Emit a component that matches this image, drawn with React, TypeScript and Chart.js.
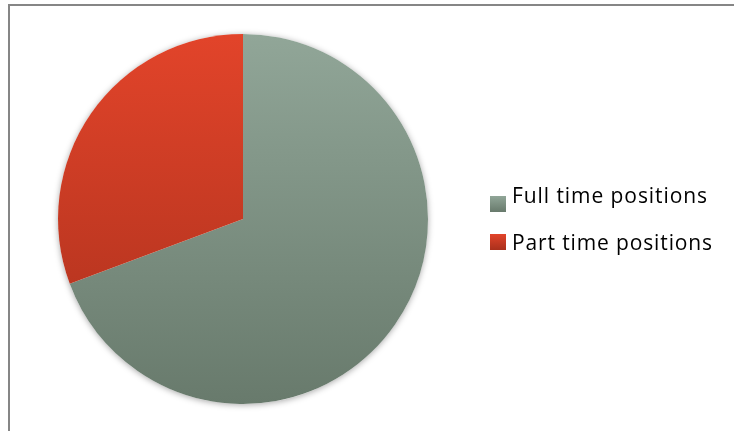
import React, { useEffect, useRef } from "react";
import { Chart, registerables } from "chart.js";

Chart.register(...registerables);

const categories = ["Full time positions", "Part time positions"];
const values = [69.3, 30.7];
const topColors = ["#91a698", "#e2442a"];
const bottomColors = ["#687a6c", "#a9301c"];

const W = 734;
const H = 431;

export default function App() {
  const ref = useRef<HTMLCanvasElement | null>(null);

  useEffect(() => {
    document.body.style.margin = "0";
    const canvas = ref.current;
    if (!canvas) return;

    const framePlugin = {
      id: "frame",
      beforeDraw(chart: any) {
        const ctx = chart.ctx;
        ctx.save();
        ctx.fillStyle = "#ffffff";
        ctx.fillRect(0, 0, W, H);
        ctx.strokeStyle = "#868686";
        ctx.lineWidth = 2;
        ctx.strokeRect(9, 5, W + 20, H + 20);
        ctx.restore();
      },
      beforeDatasetsDraw(chart: any) {
        const ctx = chart.ctx;
        ctx.save();
        ctx.shadowColor = "rgba(0,0,0,0.35)";
        ctx.shadowBlur = 6;
        ctx.shadowOffsetX = 0;
        ctx.shadowOffsetY = 1;
        const meta = chart.getDatasetMeta(0);
        const arc = meta.data[0];
        if (arc) {
          ctx.beginPath();
          ctx.arc(arc.x, arc.y, arc.outerRadius, 0, Math.PI * 2);
          ctx.fillStyle = "#ffffff";
          ctx.fill();
        }
        ctx.restore();
      },
      afterDraw(chart: any) {
        const ctx = chart.ctx;
        ctx.save();
        ctx.textBaseline = "alphabetic";
        ctx.textAlign = "left";
        const boxY = [196, 234];
        const baseY = [203, 250];
        const targetW = [195, 200];
        categories.forEach((label, i) => {
          const g = ctx.createLinearGradient(0, boxY[i], 0, boxY[i] + 16);
          g.addColorStop(0, topColors[i]);
          g.addColorStop(1, bottomColors[i]);
          ctx.fillStyle = g;
          ctx.fillRect(490, boxY[i], 16, 16);
          ctx.font = "21px 'Open Sans', sans-serif";
          (ctx as any).letterSpacing = "0px";
          const w = ctx.measureText(label).width;
          const sp = (targetW[i] - w) / (label.length - 1);
          (ctx as any).letterSpacing = sp.toFixed(2) + "px";
          ctx.fillStyle = "#000000";
          ctx.fillText(label, 512, baseY[i]);
        });
        ctx.restore();
      },
    };

    const chart = new Chart(canvas, {
      type: "pie",
      data: {
        labels: categories,
        datasets: [
          {
            data: values,
            borderWidth: 0,
            backgroundColor: (c: any) => {
              const area = c.chart.chartArea;
              const i = c.dataIndex;
              if (!area) return topColors[i];
              const g = c.chart.ctx.createLinearGradient(0, area.top, 0, area.bottom);
              g.addColorStop(0, topColors[i]);
              g.addColorStop(1, bottomColors[i]);
              return g;
            },
          },
        ],
      },
      options: {
        animation: false,
        responsive: false,
        devicePixelRatio: 1,
        layout: { padding: { left: 58, right: W - 428, top: 34, bottom: H - 404 } },
        plugins: {
          legend: { display: false },
          tooltip: { enabled: false },
        },
      },
      plugins: [framePlugin],
    });

    return () => chart.destroy();
  }, []);

  return (
    <div style={{ width: W, height: H }}>
      <canvas ref={ref} width={W} height={H} style={{ display: "block", width: W, height: H }} />
    </div>
  );
}
